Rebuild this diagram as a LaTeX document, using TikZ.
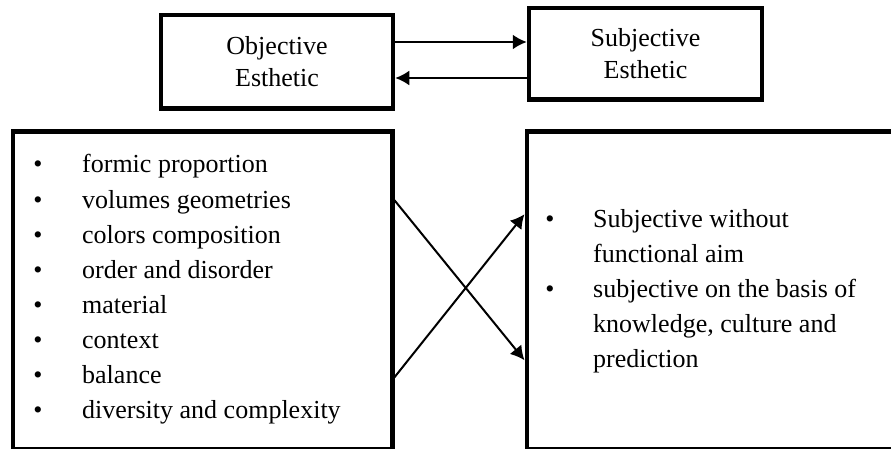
\documentclass[tikz,border=0pt]{standalone}
\usepackage{fontspec}
\setmainfont{Liberation Serif}
\usetikzlibrary{arrows.meta, calc, positioning}
\tikzset{
    headBox/.style={draw, rectangle, line width=4.5pt, align=center, inner sep=0pt, font=\fontsize{26}{31.5}\selectfont},
    listBox/.style={draw, rectangle, line width=4.5pt, inner sep=0pt, anchor=north west},
    itemDot/.style={anchor=base, inner sep=0pt, font=\fontsize{26}{35}\selectfont},
    itemText/.style={anchor=base west, inner sep=0pt, font=\fontsize{26}{35}\selectfont},
    linkEdge/.style={-{Latex[length=14pt, width=15pt]}, line width=2pt},
}
\begin{document}
\begin{tikzpicture}[x=1pt, y=-1pt]
        \useasboundingbox (0,0) rectangle (891,449);

        % top boxes
        \node[headBox, minimum width=232pt, minimum height=93.5pt] (objective) at (277,61.75) {Objective\\Esthetic};
        \node[headBox, minimum width=233pt, minimum height=91.5pt] (subjective) at (645.5,53.75) {Subjective\\Esthetic};

        % list boxes
        \node[listBox, minimum width=379.5pt, minimum height=317pt] (objlist) at (10.5,129.5) {};
        \node[listBox, minimum width=370pt, minimum height=317pt] (subjlist) at (524.5,129.5) {};

        % left list
        \foreach \txt [count=\i] in {formic proportion, volumes geometries, colors composition, order and disorder, material, context, balance, diversity and complexity}{
            \node[itemDot] (dotL\i) at (38,138+35*\i) {\textbullet};
            \node[itemText] (itemL\i) at (82,138+35*\i) {\txt};
        }

        % right list
        \node[itemDot] (dotR1) at (550,227) {\textbullet};
        \node[itemDot] (dotR2) at (550,297) {\textbullet};
        \foreach \txt [count=\i] in {Subjective without, functional aim, subjective on the basis of, {knowledge, culture and}, prediction}{
            \node[itemText] (itemR\i) at (593,192+35*\i) {\txt};
        }

        % links
        \coordinate (upY) at (0,42);
        \coordinate (downY) at (0,78);
        \draw[linkEdge] (objective.east |- upY) -- (subjective.west |- upY);
        \draw[linkEdge] (subjective.west |- downY) -- (objective.east |- downY);
        \draw[linkEdge] ($(objlist.north east)+(0,70.75)$) -- ($(subjlist.north west)+(0,230.75)$);
        \draw[linkEdge] ($(objlist.north east)+(0,247.75)$) -- ($(subjlist.north west)+(0,84.75)$);

    \end{tikzpicture}
\end{document}
